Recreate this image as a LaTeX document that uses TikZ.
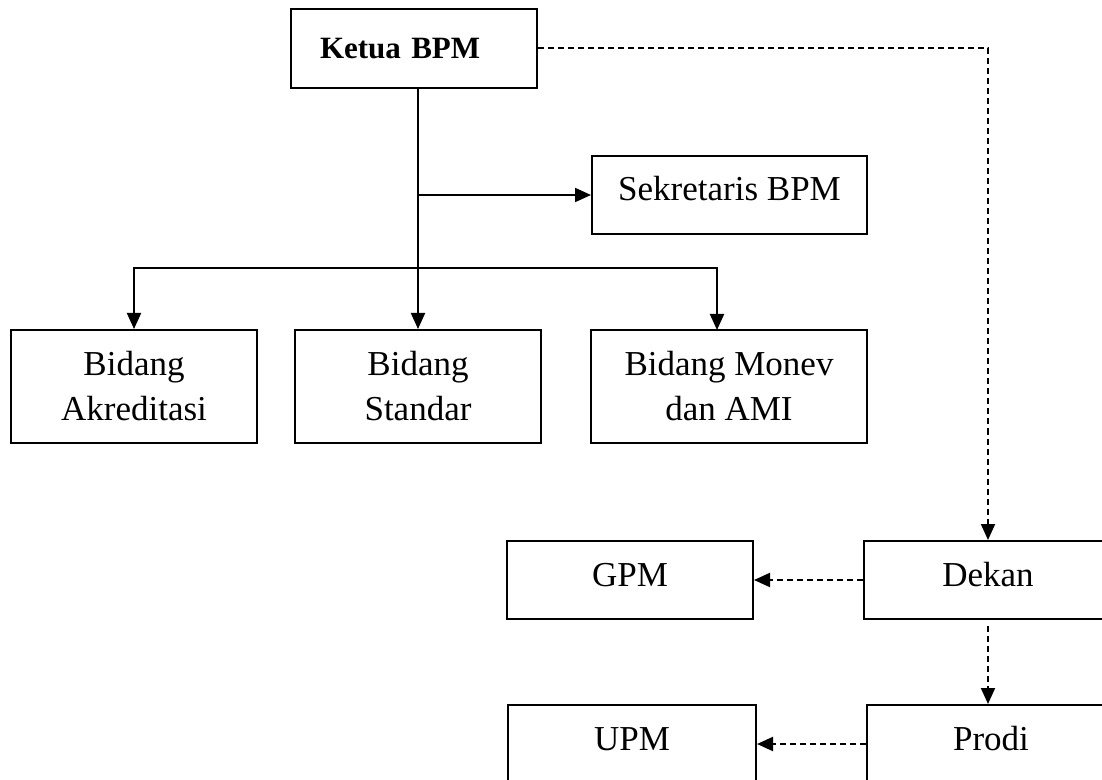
\documentclass[tikz,border=0pt]{standalone}
\usepackage{fontspec}
\setmainfont{Liberation Serif}
\usetikzlibrary{arrows.meta}

\begin{document}
\begin{tikzpicture}[x=.5pt,y=-.5pt,
  box/.style={draw,line width=1pt,inner sep=0pt,minimum height=39pt,align=center,font=\fontsize{17.5}{22.5}\selectfont},
  onebox/.style={box,text height=12pt,text depth=6pt},
  arr/.style={line width=1pt,-{Triangle[length=8pt,width=7pt]}},
  darr/.style={arr,dash pattern=on 3pt off 2pt}]
\useasboundingbox (0,0) rectangle (1102,780);
\clip (0,0) rectangle (1102,780);
\node[box,minimum height=39.5pt,inner xsep=14.5pt,text width=94pt,align=left,font=\fontsize{15.5}{18}\selectfont\bfseries] (ketua) at (414,48.5) {Ketua BPM};
\node[onebox,minimum width=137.5pt] (sekretaris) at (729.5,195) {Sekretaris BPM};
\node[box,minimum width=123pt,minimum height=56.5pt] (akreditasi) at (134,386.5) {Bidang\\Akreditasi};
\node[box,minimum width=123pt,minimum height=56.5pt] (standar) at (418,386.5) {Bidang\\Standar};
\node[box,minimum width=138pt,minimum height=56.5pt] (monev) at (729,386.5) {Bidang Monev\\dan AMI};
\node[onebox,minimum width=123pt] (gpm) at (630,580) {GPM};
\node[onebox,minimum width=124pt] (dekan) at (988,580) {Dekan};
\node[onebox,minimum width=124pt] (upm) at (632,744) {UPM};
\node[onebox,minimum width=124pt] (prodi) at (991,744) {Prodi};
\coordinate (bar) at (418,268);
\coordinate (monevtop) at (717,330);
\draw[arr] (ketua.south -| standar.north) -- (standar.north);
\draw[arr] (standar.north |- sekretaris.west) -- (sekretaris.west);
\draw[arr] (bar) -| (akreditasi.north);
\draw[arr] (bar) -| (monevtop);
\draw[darr] (ketua.east) -| (dekan.north);
\draw[darr] (dekan.west) -- (gpm.east);
\draw[darr] ([yshift=-3pt]dekan.south) -- (prodi.north -| dekan.south);
\draw[darr] (prodi.west) -- (upm.east);
\end{tikzpicture}
\end{document}
